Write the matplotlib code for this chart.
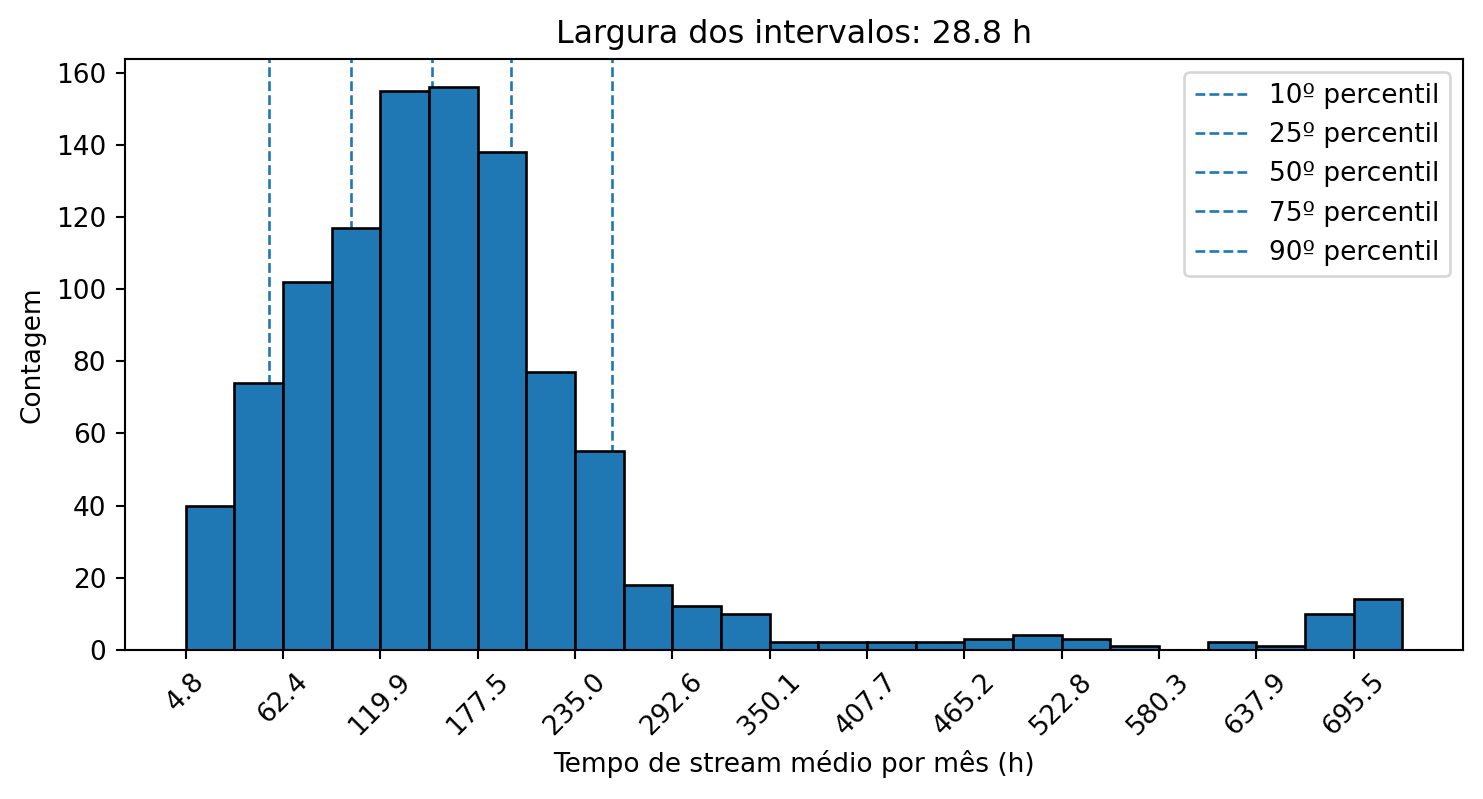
import matplotlib
matplotlib.use("Agg")
import matplotlib.pyplot as plt
import numpy as np

bin_start = 4.8
bin_width = 28.7772
counts = [40, 74, 102, 117, 155, 156, 138, 77, 55, 18, 12, 10, 2, 2, 2, 2,
          3, 4, 3, 1, 0, 2, 1, 10, 14]
percentile_labels = ["10º percentil", "25º percentil", "50º percentil",
                     "75º percentil", "90º percentil"]
percentile_values = [54.3, 102.8, 150.7, 197.4, 257.1]

edges = bin_start + bin_width * np.arange(len(counts) + 1)
centers = (edges[:-1] + edges[1:]) / 2

dpi = 190
fig = plt.figure(figsize=(1483 / dpi, 799 / dpi), dpi=dpi)
left, right, bottom, top = 124.7 / 1483, 1463 / 1483, 1 - 649.7 / 799, 1 - 59.3 / 799
ax = fig.add_axes([left, bottom, right - left, top - bottom])

for lab, v in zip(percentile_labels, percentile_values):
    ax.axvline(v, color="#1f77b4", linestyle="--", linewidth=1, label=lab, zorder=0.5)

ax.hist(centers, bins=edges, weights=counts, color="#1f77b4", edgecolor="black", zorder=1)

ticks = edges[::2]
ax.set_xticks(ticks)
ax.set_xticklabels([f"{t:.1f}" for t in ticks], rotation=45)
ax.set_xlabel("Tempo de stream médio por mês (h)")
ax.set_ylabel("Contagem")
ax.set_title("Largura dos intervalos: 28.8 h")
ax.legend(loc="upper right")

fig.savefig("out.png", dpi=dpi)
